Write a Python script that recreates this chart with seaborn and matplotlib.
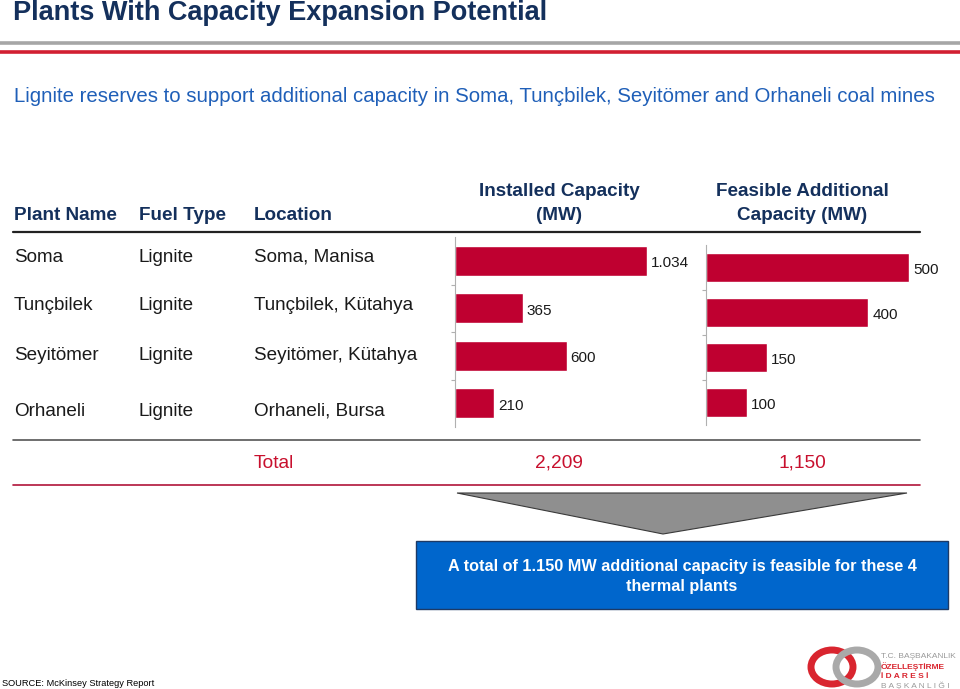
import matplotlib
matplotlib.use("Agg")
import matplotlib.pyplot as plt
from matplotlib.patches import Polygon, Rectangle, Ellipse
import pandas as pd
import seaborn as sns

# data
plants = ["Soma", "Tunçbilek", "Seyitömer", "Orhaneli"]
fuel = ["Lignite", "Lignite", "Lignite", "Lignite"]
locations = ["Soma, Manisa", "Tunçbilek, Kütahya", "Seyitömer, Kütahya", "Orhaneli, Bursa"]
installed = [1034, 365, 600, 210]
installed_labels = ["1.034", "365", "600", "210"]
additional = [500, 400, 150, 100]
additional_labels = ["500", "400", "150", "100"]
total_installed = "2,209"
total_additional = "1,150"

W, H = 960, 689
RED = "#bf0030"
NAVY = "#14305c"
BLUE_TXT = "#1f5fb8"
TXT = "#1a1a1a"

sns.set_style("white")
plt.rcParams["font.family"] = ["Liberation Sans", "DejaVu Sans"]

fig = plt.figure(figsize=(W / 100, H / 100), dpi=100)

# overlay in pixel coordinates for the table parts
ov = fig.add_axes([0, 0, 1, 1], zorder=0)
ov.set_xlim(0, W)
ov.set_ylim(H, 0)
ov.axis("off")


def px_rect(x0, y0, x1, y1):
    return [x0 / W, 1 - y1 / H, (x1 - x0) / W, (y1 - y0) / H]


# title and rules
ov.text(13, 13, "Plants With Capacity Expansion Potential", fontsize=19.5, fontweight="bold",
        color=NAVY, va="center", ha="left")
ov.plot([0, W], [42.5, 42.5], color="#a6a6a6", lw=2.6, solid_capstyle="butt")
ov.plot([0, W], [51.5, 51.5], color="#d21f32", lw=2.6, solid_capstyle="butt")

ov.text(14, 97, "Lignite reserves to support additional capacity in Soma, Tunçbilek, Seyitömer and Orhaneli coal mines",
        fontsize=14.7, color=BLUE_TXT, va="center", ha="left")

# column headers
hdr = dict(fontsize=13.6, fontweight="bold", color=NAVY, va="center")
ov.text(14, 215, "Plant Name", ha="left", **hdr)
ov.text(139, 215, "Fuel Type", ha="left", **hdr)
ov.text(254, 215, "Location", ha="left", **hdr)
ov.text(559, 192, "Installed Capacity", ha="center", **hdr)
ov.text(559, 215, "(MW)", ha="center", **hdr)
ov.text(802, 192, "Feasible Additional", ha="center", **hdr)
ov.text(802, 215, "Capacity (MW)", ha="center", **hdr)
ov.plot([13, 920], [232, 232], color="#222222", lw=1.6)

# table rows
row_y = [257, 305, 356, 411]
for y, p, f, loc in zip(row_y, plants, fuel, locations):
    ov.text(14, y, p, fontsize=13.6, color=TXT, va="center", ha="left")
    ov.text(139, y, f, fontsize=13.6, color=TXT, va="center", ha="left")
    ov.text(254, y, loc, fontsize=13.6, color=TXT, va="center", ha="left")

# totals
ov.plot([13, 920], [440, 440], color="#555555", lw=1.2)
ov.text(254, 463, "Total", fontsize=13.8, color="#c8102e", va="center", ha="left")
ov.text(559, 463, total_installed, fontsize=13.8, color="#c8102e", va="center", ha="center")
ov.text(802, 463, total_additional, fontsize=13.8, color="#c8102e", va="center", ha="center")
ov.plot([13, 920], [485, 485], color="#b0143a", lw=1.2)

# arrow and conclusion box
ov.add_patch(Polygon([[457, 493], [907, 493], [663, 534]], closed=True,
                     facecolor="#8f8f8f", edgecolor="#3a3a3a", lw=0.8))
ov.add_patch(Rectangle((416, 541), 532, 68, facecolor="#0066cc", edgecolor="#1d3a66", lw=1))
ov.text(682, 566, "A total of 1.150 MW additional capacity is feasible for these 4",
        fontsize=11.7, fontweight="bold", color="white", ha="center", va="center")
ov.text(682, 586, "thermal plants", fontsize=11.7, fontweight="bold", color="white",
        ha="center", va="center")

ov.text(2, 684, "SOURCE: McKinsey Strategy Report", fontsize=6.7, color="black",
        ha="left", va="center")

# rough logo
ov.add_patch(Ellipse((832, 667), 42, 34, facecolor="none", edgecolor="#d9252f", lw=5))
ov.add_patch(Ellipse((857, 667), 42, 34, facecolor="none", edgecolor="#a9a9a9", lw=5))
logo_lines = [("T.C. BAŞBAKANLIK", "#9a9a9a"), ("ÖZELLEŞTİRME", "#d9252f"),
              ("İ D A R E S İ", "#d9252f"), ("B A Ş K A N L I Ğ I", "#9a9a9a")]
for i, (t, c) in enumerate(logo_lines):
    ov.text(881, 657 + i * 9.5, t, fontsize=6, color=c, ha="left", va="center",
            fontweight="bold" if c == "#d9252f" else "normal")

df = pd.DataFrame({"plant": plants, "installed": installed, "additional": additional})


def bar_panel(rect, col, xmax, labels, width):
    ax = fig.add_axes(rect, zorder=2)
    ax.patch.set_alpha(0)
    sns.barplot(data=df, x=col, y="plant", orient="h", color=RED, width=width,
                saturation=1, ax=ax)
    ax.set_xlim(0, xmax)
    ax.set_ylim(3.5, -0.5)
    for s in ["top", "right", "bottom"]:
        ax.spines[s].set_visible(False)
    ax.spines["left"].set_color("#b0b0b0")
    ax.spines["left"].set_linewidth(0.8)
    ax.set_yticks([0.5, 1.5, 2.5])
    ax.set_yticklabels([])
    ax.tick_params(axis="y", length=3, color="#b0b0b0", width=0.8, left=True)
    ax.set_xticks([])
    ax.set_xlabel("")
    ax.set_ylabel("")
    # value labels sit a touch below the bar centre in the reference
    for i, (v, lab) in enumerate(zip(df[col], labels)):
        ax.text(v + xmax * 0.016, i + 0.05, lab, fontsize=11, color=TXT, va="center", ha="left")
    return ax


bar_panel(px_rect(455, 237, 700, 427), "installed", 1318, installed_labels, 0.63)
bar_panel(px_rect(706, 245, 950, 425), "additional", 601, additional_labels, 0.64)

fig.savefig("out.png", dpi=100)
